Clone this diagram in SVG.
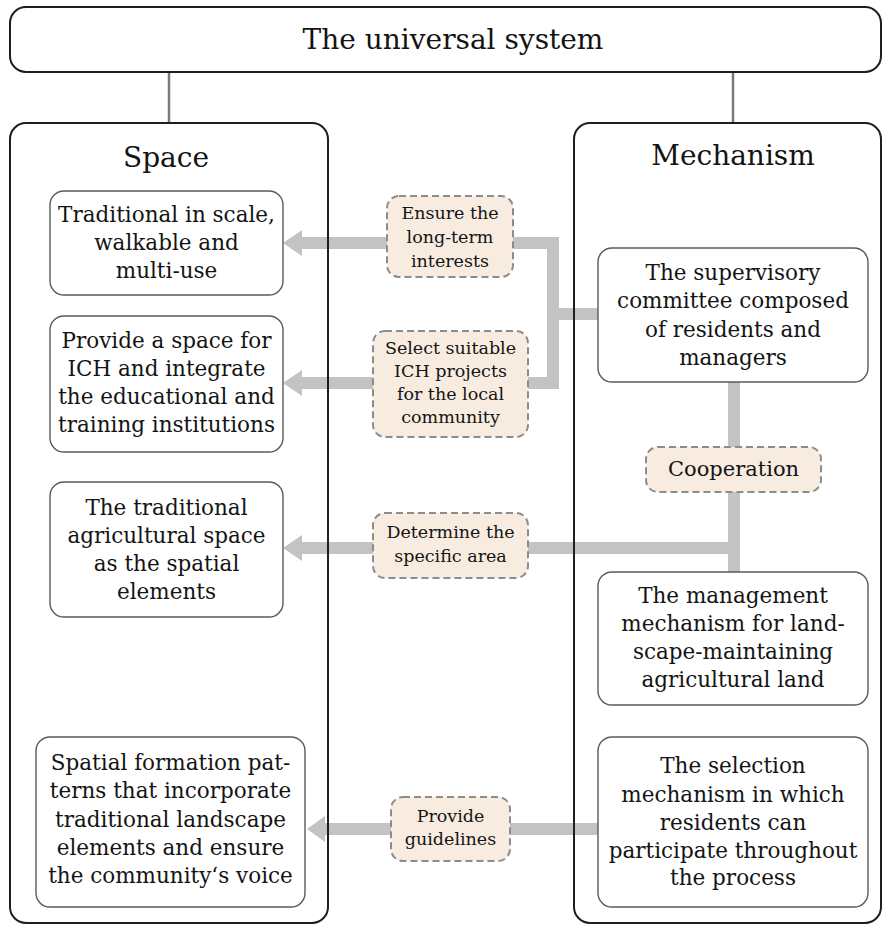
<svg xmlns="http://www.w3.org/2000/svg" width="882" height="925" viewBox="0 0 882 925">
  <style>
    text { font-family: "DejaVu Serif", "Liberation Serif", serif; fill: #141414; text-anchor: middle; }
    .title { font-size: 28px; }
    .body { font-size: 21.5px; }
    .lab { font-size: 17.5px; }
    .coop { font-size: 21px; }
    .frame { fill: none; stroke: #1e1e1e; stroke-width: 2; }
    .node { fill: #ffffff; stroke: #5a5a5a; stroke-width: 1.4; }
    .tag { fill: #f8ece0; stroke: #8c8c8c; stroke-width: 2; stroke-dasharray: 7 4; }
    .link { fill: none; stroke: #c3c3c3; stroke-width: 12; stroke-linejoin: miter; }
    .arrow { fill: #c3c3c3; }
    .stem { stroke: #7a7a7a; stroke-width: 2.5; }
  </style>

  <rect width="882" height="925" fill="#ffffff"/>

  <!-- connectors: grey bars and block arrows -->
  <g id="connectors">
    <line class="stem" x1="169" y1="72" x2="169" y2="123"/>
    <line class="stem" x1="733" y1="72" x2="733" y2="123"/>
    <path class="link" d="M513,243 H553 V383 H528"/>
    <path class="link" d="M553,314 H598"/>
    <path class="link" d="M734,382 V447"/>
    <path class="link" d="M734,492 V572"/>
    <path class="link" d="M528,548 H734"/>
    <path class="link" d="M510,829 H598"/>
    <path class="arrow" d="M283,243 L302,230 L302,237 L388,237 L388,249 L302,249 L302,256 Z"/>
    <path class="arrow" d="M283,383 L302,370 L302,377 L374,377 L374,389 L302,389 L302,396 Z"/>
    <path class="arrow" d="M283,548 L302,535 L302,542 L374,542 L374,554 L302,554 L302,561 Z"/>
    <path class="arrow" d="M307,829 L325,816 L325,823 L392,823 L392,835 L325,835 L325,842 Z"/>
  </g>

  <g id="universal-system">
    <rect class="frame" x="10" y="7" width="871" height="65" rx="16"/>
    <text class="title" x="453" y="49">The universal system</text>
  </g>

  <g id="space">
    <rect class="frame" x="10" y="123" width="318" height="800" rx="16"/>
    <text class="title" x="166" y="167">Space</text>
  </g>

  <g id="mechanism">
    <rect class="frame" x="574" y="123" width="307" height="800" rx="16"/>
    <text class="title" x="733" y="165">Mechanism</text>
  </g>

  <g id="space-scale">
    <rect class="node" x="50" y="191" width="233" height="104" rx="14"/>
    <text class="body" x="166.5" y="222">Traditional in scale,</text>
    <text class="body" x="166.5" y="250">walkable and</text>
    <text class="body" x="166.5" y="278">multi-use</text>
  </g>

  <g id="space-ich">
    <rect class="node" x="50" y="316" width="233" height="136" rx="14"/>
    <text class="body" x="166.5" y="348">Provide a space for</text>
    <text class="body" x="166.5" y="376">ICH and integrate</text>
    <text class="body" x="166.5" y="404">the educational and</text>
    <text class="body" x="166.5" y="432">training institutions</text>
  </g>

  <g id="space-agricultural">
    <rect class="node" x="50" y="482" width="233" height="135" rx="14"/>
    <text class="body" x="166.5" y="515">The traditional</text>
    <text class="body" x="166.5" y="543">agricultural space</text>
    <text class="body" x="166.5" y="571">as the spatial</text>
    <text class="body" x="166.5" y="599">elements</text>
  </g>

  <g id="space-patterns">
    <rect class="node" x="36" y="737" width="269" height="170" rx="14"/>
    <text class="body" x="170.5" y="770">Spatial formation pat-</text>
    <text class="body" x="170.5" y="798">terns that incorporate</text>
    <text class="body" x="170.5" y="827">traditional landscape</text>
    <text class="body" x="170.5" y="855">elements and ensure</text>
    <text class="body" x="170.5" y="883">the community‘s voice</text>
  </g>

  <g id="mech-supervisory">
    <rect class="node" x="598" y="248" width="270" height="134" rx="14"/>
    <text class="body" x="733" y="280">The supervisory</text>
    <text class="body" x="733" y="308">committee composed</text>
    <text class="body" x="733" y="337">of residents and</text>
    <text class="body" x="733" y="365">managers</text>
  </g>

  <g id="mech-management">
    <rect class="node" x="598" y="572" width="270" height="133" rx="14"/>
    <text class="body" x="733" y="603">The management</text>
    <text class="body" x="733" y="631">mechanism for land-</text>
    <text class="body" x="733" y="659">scape-maintaining</text>
    <text class="body" x="733" y="687">agricultural land</text>
  </g>

  <g id="mech-selection">
    <rect class="node" x="598" y="737" width="270" height="170" rx="14"/>
    <text class="body" x="733" y="773">The selection</text>
    <text class="body" x="733" y="802">mechanism in which</text>
    <text class="body" x="733" y="830">residents can</text>
    <text class="body" x="733" y="858">participate throughout</text>
    <text class="body" x="733" y="885">the process</text>
  </g>

  <g id="tag-long-term">
    <rect class="tag" x="387" y="196" width="126" height="81" rx="12"/>
    <text class="lab" x="450" y="219">Ensure the</text>
    <text class="lab" x="450" y="243">long-term</text>
    <text class="lab" x="450" y="267">interests</text>
  </g>

  <g id="tag-select">
    <rect class="tag" x="373" y="331" width="155" height="106" rx="12"/>
    <text class="lab" x="450.5" y="354">Select suitable</text>
    <text class="lab" x="450.5" y="377">ICH projects</text>
    <text class="lab" x="450.5" y="400">for the local</text>
    <text class="lab" x="450.5" y="423">community</text>
  </g>

  <g id="tag-cooperation">
    <rect class="tag" x="646" y="447" width="175" height="45" rx="12"/>
    <text class="coop" x="733.5" y="476">Cooperation</text>
  </g>

  <g id="tag-area">
    <rect class="tag" x="373" y="513" width="155" height="65" rx="12"/>
    <text class="lab" x="450.5" y="538">Determine the</text>
    <text class="lab" x="450.5" y="562">specific area</text>
  </g>

  <g id="tag-guidelines">
    <rect class="tag" x="391" y="797" width="119" height="64" rx="12"/>
    <text class="lab" x="450.5" y="822">Provide</text>
    <text class="lab" x="450.5" y="845">guidelines</text>
  </g>
</svg>
